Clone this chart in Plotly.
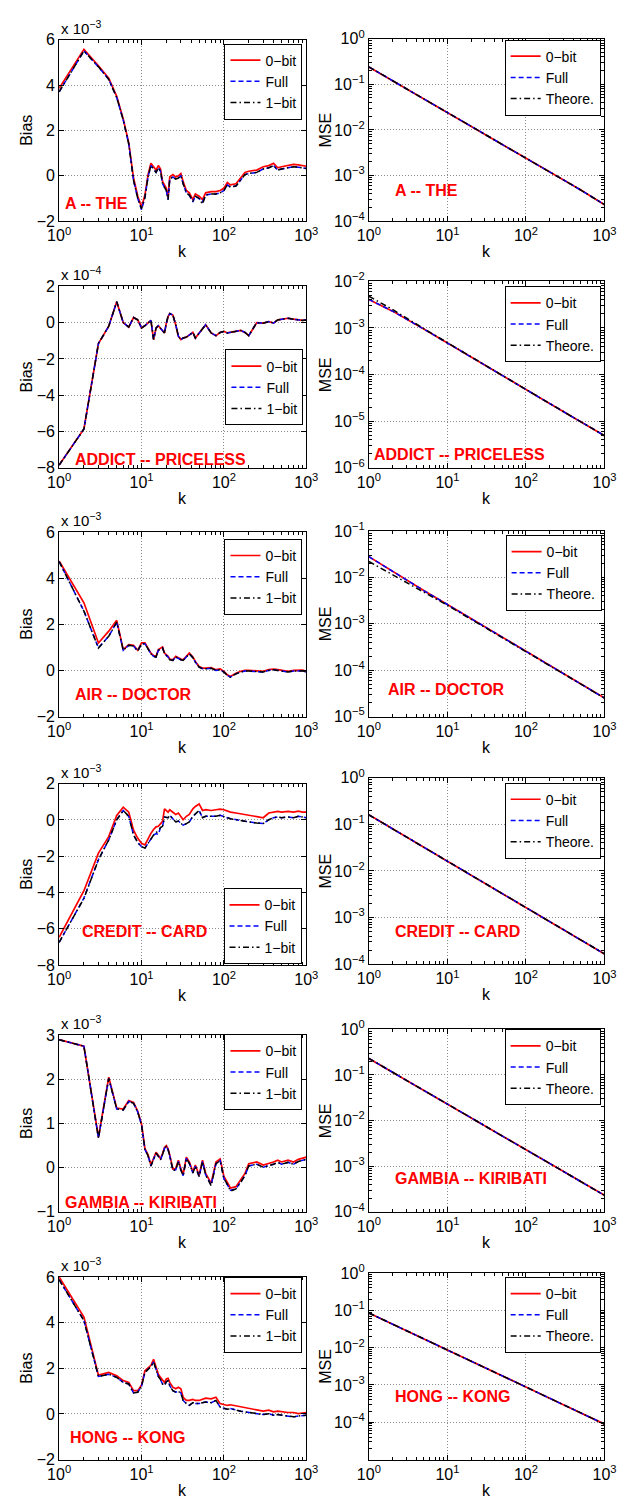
import plotly.graph_objects as go

W, H = 629, 1508

# ---------------- data ----------------
K_BIAS = [1, 2, 3, 4, 5, 6, 7, 8, 9, 10, 11, 12, 13, 14, 15, 16, 17, 18, 19, 20, 21, 22,
          24, 26, 28, 30, 32, 35, 38, 42, 45, 50, 55, 60, 70, 80, 90, 100,
          110, 120, 140, 160, 180, 200, 250, 300, 350, 400, 450, 500,
          600, 700, 800, 900, 1000]
K_MSE = [1, 2, 5, 10, 20, 50, 100, 200, 500, 1000]

PAIR_NAMES = ["A -- THE", "ADDICT -- PRICELESS", "AIR -- DOCTOR",
              "CREDIT -- CARD", "GAMBIA -- KIRIBATI", "HONG -- KONG"]
BIAS_LEGEND = ["0\u2212bit", "Full", "1\u2212bit"]
MSE_LEGEND = ["0\u2212bit", "Full", "Theore."]

# Bias values (in units of 10^exponent)
A_THE_0BIT = [3.85, 5.57, 4.85, 4.3, 3.5, 2.5, 1.45, -0.1, -0.9, -1.38, -0.85, 0.05, 0.55, 0.4, 0.25, 0.45, 0.3, -0.25, -0.4, -0.55, -0.95, -0.05,
              0.05, -0.05, 0.0, 0.1, -0.25, -0.65, -0.75, -1.05, -0.8, -0.9, -1.05, -0.75, -0.7, -0.7, -0.65, -0.55,
              -0.3, -0.4, -0.35, -0.1, 0.15, 0.2, 0.25, 0.4, 0.45, 0.55, 0.35, 0.4,
              0.45, 0.5, 0.48, 0.45, 0.42]
A_THE_FULL = [3.7, 5.5, 4.8, 4.25, 3.45, 2.45, 1.4, -0.2, -1.0, -1.5, -0.95, -0.05, 0.45, 0.3, 0.15, 0.35, 0.2, -0.35, -0.5, -0.65, -1.05, -0.15,
              -0.05, -0.15, -0.1, 0.0, -0.35, -0.75, -0.85, -1.15, -0.9, -1.0, -1.15, -0.85, -0.8, -0.8, -0.75, -0.65,
              -0.4, -0.5, -0.45, -0.2, 0.05, 0.1, 0.15, 0.3, 0.35, 0.45, 0.25, 0.3,
              0.35, 0.4, 0.38, 0.35, 0.32]
A_THE_1BIT = [3.7, 5.5, 4.8, 4.25, 3.45, 2.45, 1.4, -0.2, -1.0, -1.45, -0.95, -0.05, 0.45, 0.3, 0.15, 0.35, 0.2, -0.35, -0.5, -0.65, -1.05, -0.15,
              -0.05, -0.15, -0.1, 0.0, -0.35, -0.75, -0.85, -1.1, -0.9, -1.0, -1.25, -0.85, -0.8, -0.8, -0.75, -0.65,
              -0.4, -0.5, -0.45, -0.2, 0.05, 0.1, 0.15, 0.3, 0.35, 0.45, 0.25, 0.3,
              0.35, 0.4, 0.38, 0.35, 0.32]

ADDICT_0BIT = [-7.85, -5.86, -1.15, -0.2, 1.15, 0.0, -0.25, 0.28, 0.15, -0.3, -0.17, -0.03, 0.12, -0.93, -0.3, -0.17, -0.3, -0.48, -0.57, -0.03, 0.33, 0.5,
               0.42, -0.12, -0.75, -0.93, -0.85, -0.8, -0.66, -0.54, -0.85, -0.57, -0.3, -0.12, -0.57, -0.72, -0.54, -0.48,
               -0.57, -0.54, -0.48, -0.43, -0.54, -0.72, 0.0, -0.03, 0.06, -0.03, 0.15, 0.19,
               0.24, 0.19, 0.15, 0.12, 0.15]
ADDICT_FULL = [-7.85, -5.86, -1.15, -0.2, 1.15, 0.0, -0.25, 0.28, 0.15, -0.3, -0.17, -0.03, 0.12, -0.93, -0.3, -0.17, -0.3, -0.48, -0.57, -0.03, 0.33, 0.5,
               0.42, -0.12, -0.75, -0.93, -0.85, -0.8, -0.66, -0.54, -0.85, -0.57, -0.3, -0.12, -0.57, -0.72, -0.54, -0.48,
               -0.57, -0.54, -0.48, -0.43, -0.54, -0.72, 0.0, -0.03, 0.06, -0.03, 0.15, 0.19,
               0.24, 0.19, 0.15, 0.12, 0.15]
ADDICT_1BIT = [-7.85, -5.86, -1.15, -0.2, 1.15, 0.0, -0.25, 0.28, 0.15, -0.3, -0.17, -0.03, 0.12, -0.93, -0.3, -0.17, -0.3, -0.48, -0.57, -0.03, 0.33, 0.5,
               0.42, -0.12, -0.75, -0.93, -0.85, -0.8, -0.66, -0.54, -0.85, -0.57, -0.3, -0.12, -0.57, -0.72, -0.54, -0.48,
               -0.57, -0.54, -0.48, -0.43, -0.54, -0.72, 0.0, -0.03, 0.06, -0.03, 0.15, 0.19,
               0.24, 0.19, 0.15, 0.12, 0.15]

AIR_0BIT = [4.74, 2.93, 1.19, 1.7, 2.17, 0.9, 1.12, 1.09, 0.87, 1.19, 1.19, 0.97, 0.75, 0.64, 0.61, 0.9, 0.97, 1.01, 0.75, 0.68, 0.61, 0.49,
            0.46, 0.61, 0.54, 0.49, 0.46, 0.61, 0.75, 0.58, 0.39, 0.17, 0.1, 0.1, 0.12, 0.03, 0.06, -0.04,
            -0.19, -0.26, -0.12, -0.04, 0.0, 0.0, -0.04, -0.04, 0.03, 0.06, 0.03, 0.0,
            -0.04, 0.0, 0.0, 0.01, -0.04]
AIR_FULL = [4.72, 2.57, 0.97, 1.48, 2.09, 0.87, 1.09, 1.06, 0.84, 1.16, 1.16, 0.94, 0.72, 0.61, 0.58, 0.87, 0.94, 0.98, 0.72, 0.65, 0.58, 0.46,
            0.43, 0.58, 0.51, 0.46, 0.43, 0.58, 0.72, 0.55, 0.36, 0.14, 0.07, 0.07, 0.09, 0.0, 0.03, -0.07,
            -0.22, -0.29, -0.15, -0.07, -0.03, -0.03, -0.07, -0.07, 0.0, 0.03, 0.0, -0.03,
            -0.07, -0.03, -0.03, -0.02, -0.07]
AIR_1BIT = [4.72, 2.57, 0.97, 1.48, 2.09, 0.87, 1.09, 1.06, 0.84, 1.16, 1.16, 0.94, 0.72, 0.61, 0.58, 0.87, 0.94, 0.98, 0.72, 0.65, 0.58, 0.46,
            0.43, 0.58, 0.51, 0.46, 0.43, 0.58, 0.72, 0.55, 0.36, 0.14, 0.07, 0.07, 0.09, 0.0, 0.03, -0.07,
            -0.22, -0.29, -0.15, -0.07, -0.03, -0.03, -0.07, -0.07, 0.0, 0.03, 0.0, -0.03,
            -0.07, -0.03, -0.03, -0.02, -0.07]

CREDIT_0BIT = [-6.47, -3.9, -1.83, -0.92, 0.25, 0.7, 0.43, -0.56, -1.01, -1.29, -1.38, -1.01, -0.74, -0.53, -0.38, -0.35, -0.2, -0.08, 0.61, 0.52, 0.43, 0.56,
               0.43, 0.3, 0.38, 0.2, 0.01, 0.2, 0.3, 0.61, 0.74, 0.88, 0.52, 0.57, 0.52, 0.56, 0.59, 0.56,
               0.48, 0.43, 0.38, 0.34, 0.3, 0.25, 0.2, 0.12, 0.38, 0.43, 0.47, 0.43,
               0.47, 0.43, 0.48, 0.43, 0.43]
CREDIT_FULL = [-6.75, -4.3, -2.19, -1.1, 0.01, 0.52, 0.2, -0.83, -1.25, -1.47, -1.55, -1.29, -1.01, -0.83, -0.75, -0.8, -0.42, -0.35, 0.16, 0.16, 0.12, 0.25,
               0.07, -0.11, -0.06, -0.17, -0.29, -0.2, -0.11, 0.2, 0.34, 0.52, 0.12, 0.2, 0.2, 0.2, 0.25, 0.2,
               0.12, 0.07, 0.01, -0.02, -0.06, -0.11, -0.17, -0.2, 0.01, 0.12, 0.16, 0.12,
               0.16, 0.12, 0.2, 0.16, 0.12]
CREDIT_1BIT = [-6.74, -4.32, -2.19, -1.1, 0.01, 0.52, 0.2, -0.83, -1.25, -1.47, -1.55, -1.29, -1.01, -0.83, -0.7, -0.6, -0.42, -0.35, 0.16, 0.16, 0.12, 0.25,
               0.07, -0.11, -0.06, -0.17, -0.29, -0.2, -0.11, 0.2, 0.34, 0.52, 0.12, 0.2, 0.2, 0.2, 0.25, 0.2,
               0.12, 0.07, 0.01, -0.02, -0.06, -0.11, -0.17, -0.2, 0.01, 0.12, 0.16, 0.12,
               0.16, 0.12, 0.2, 0.16, 0.12]

GAMBIA_0BIT = [2.9, 2.75, 0.69, 2.05, 1.35, 1.33, 1.52, 1.48, 1.28, 0.99, 0.43, 0.29, 0.06, 0.2, 0.35, 0.28, 0.2, 0.32, 0.46, 0.5, 0.43, 0.29,
               -0.03, -0.02, 0.17, -0.02, -0.15, 0.24, 0.13, -0.09, 0.06, -0.17, 0.17, -0.13, -0.35, 0.13, 0.2, -0.2,
               -0.32, -0.46, -0.43, -0.28, -0.13, 0.09, 0.13, 0.06, 0.09, 0.13, 0.17, 0.13,
               0.17, 0.13, 0.19, 0.22, 0.24]
GAMBIA_FULL = [2.9, 2.75, 0.67, 2.02, 1.33, 1.31, 1.5, 1.46, 1.26, 0.97, 0.41, 0.27, 0.04, 0.18, 0.33, 0.26, 0.18, 0.3, 0.44, 0.48, 0.41, 0.27,
               -0.06, -0.05, 0.14, -0.05, -0.18, 0.21, 0.1, -0.12, 0.03, -0.2, 0.14, -0.16, -0.39, 0.09, 0.16, -0.25,
               -0.37, -0.51, -0.48, -0.33, -0.18, 0.04, 0.08, 0.01, 0.04, 0.08, 0.12, 0.08,
               0.12, 0.08, 0.14, 0.17, 0.19]
GAMBIA_1BIT = [2.9, 2.75, 0.67, 2.02, 1.33, 1.31, 1.5, 1.46, 1.26, 0.97, 0.41, 0.27, 0.04, 0.18, 0.33, 0.26, 0.18, 0.3, 0.44, 0.48, 0.41, 0.27,
               -0.06, -0.05, 0.14, -0.05, -0.18, 0.21, 0.1, -0.12, 0.03, -0.2, 0.14, -0.16, -0.41, 0.09, 0.16, -0.25,
               -0.37, -0.53, -0.48, -0.33, -0.18, 0.04, 0.08, 0.01, 0.04, 0.08, 0.12, 0.08,
               0.12, 0.08, 0.14, 0.17, 0.19]

HONG_0BIT = [6.0, 4.24, 1.7, 1.82, 1.67, 1.46, 1.38, 1.02, 1.02, 1.27, 1.89, 2.03, 2.13, 2.39, 2.03, 1.74, 1.6, 1.46, 1.38, 1.53, 1.56, 1.38,
             1.17, 1.1, 1.17, 1.1, 0.73, 0.59, 0.59, 0.63, 0.59, 0.59, 0.66, 0.69, 0.66, 0.73, 0.45, 0.4,
             0.37, 0.4, 0.35, 0.3, 0.26, 0.23, 0.16, 0.12, 0.16, 0.09, 0.12, 0.09,
             0.06, 0.06, 0.01, 0.04, 0.06]
HONG_FULL = [5.88, 4.09, 1.64, 1.74, 1.6, 1.38, 1.31, 0.92, 0.95, 1.21, 1.82, 1.96, 2.07, 2.28, 1.96, 1.64, 1.5, 1.31, 1.24, 1.41, 1.46, 1.24,
             1.02, 0.95, 0.98, 0.92, 0.59, 0.45, 0.37, 0.49, 0.45, 0.45, 0.49, 0.52, 0.49, 0.59, 0.3, 0.23,
             0.2, 0.23, 0.16, 0.12, 0.09, 0.06, 0.01, -0.03, 0.01, -0.06, -0.03, -0.06,
             -0.09, -0.13, -0.09, -0.06, -0.06]
HONG_1BIT = [5.88, 4.09, 1.64, 1.74, 1.6, 1.38, 1.31, 0.92, 0.95, 1.21, 1.82, 1.96, 2.07, 2.28, 1.96, 1.64, 1.5, 1.31, 1.24, 1.41, 1.46, 1.24,
             1.02, 0.95, 0.98, 0.92, 0.59, 0.45, 0.37, 0.49, 0.45, 0.45, 0.49, 0.52, 0.49, 0.59, 0.3, 0.23,
             0.2, 0.23, 0.16, 0.12, 0.09, 0.06, 0.01, -0.03, 0.01, -0.06, -0.03, -0.06,
             -0.09, -0.13, -0.09, -0.06, -0.06]

# MSE values
A_THE_MSE_0BIT = [0.24, 0.12, 0.048, 0.024, 0.012, 0.0048, 0.0024, 0.0012, 0.00048, 0.00023]
A_THE_MSE_FULL = [0.24, 0.12, 0.048, 0.024, 0.012, 0.0048, 0.0024, 0.0012, 0.00048, 0.00023]
A_THE_MSE_THEO = [0.24, 0.12, 0.048, 0.024, 0.012, 0.0048, 0.0024, 0.0012, 0.00048, 0.00023]
ADDICT_MSE_0BIT = [0.0041, 0.0023, 0.00095, 0.00048, 0.00024, 9.6e-5, 4.8e-5, 2.4e-5, 9.7e-6, 4.9e-6]
ADDICT_MSE_FULL = [0.0041, 0.0023, 0.00095, 0.00048, 0.00024, 9.6e-5, 4.8e-5, 2.4e-5, 9.7e-6, 4.9e-6]
ADDICT_MSE_THEO = [0.0048, 0.0025, 0.00097, 0.00048, 0.00024, 9.6e-5, 4.8e-5, 2.4e-5, 9.7e-6, 4.9e-6]
AIR_MSE_0BIT = [0.028, 0.0135, 0.0052, 0.0026, 0.0013, 0.00051, 0.00025, 0.000126, 5.0e-5, 2.5e-5]
AIR_MSE_FULL = [0.028, 0.0135, 0.0052, 0.0026, 0.0013, 0.00051, 0.00025, 0.000126, 5.0e-5, 2.5e-5]
AIR_MSE_THEO = [0.022, 0.0115, 0.0047, 0.0025, 0.00125, 0.0005, 0.00025, 0.000125, 5.0e-5, 2.5e-5]
CREDIT_MSE_0BIT = [0.16, 0.08, 0.033, 0.0165, 0.0083, 0.0033, 0.00166, 0.00083, 0.00033, 0.000166]
CREDIT_MSE_FULL = [0.16, 0.08, 0.033, 0.0165, 0.0083, 0.0033, 0.00166, 0.00083, 0.00033, 0.000166]
CREDIT_MSE_THEO = [0.16, 0.08, 0.033, 0.0165, 0.0083, 0.0033, 0.00166, 0.00083, 0.00033, 0.000166]
GAMBIA_MSE_0BIT = [0.23, 0.115, 0.046, 0.023, 0.0115, 0.0046, 0.0023, 0.00115, 0.00046, 0.00023]
GAMBIA_MSE_FULL = [0.23, 0.115, 0.046, 0.023, 0.0115, 0.0046, 0.0023, 0.00115, 0.00046, 0.00023]
GAMBIA_MSE_THEO = [0.23, 0.115, 0.046, 0.023, 0.0115, 0.0046, 0.0023, 0.00115, 0.00046, 0.00023]
HONG_MSE_0BIT = [0.085, 0.043, 0.017, 0.0087, 0.0044, 0.00175, 0.00088, 0.00044, 0.000176, 8.9e-5]
HONG_MSE_FULL = [0.085, 0.043, 0.017, 0.0087, 0.0044, 0.00175, 0.00088, 0.00044, 0.000176, 8.9e-5]
HONG_MSE_THEO = [0.085, 0.043, 0.017, 0.0087, 0.0044, 0.00175, 0.00088, 0.00044, 0.000176, 8.9e-5]

BIAS_SERIES = [(A_THE_0BIT, A_THE_FULL, A_THE_1BIT), (ADDICT_0BIT, ADDICT_FULL, ADDICT_1BIT),
               (AIR_0BIT, AIR_FULL, AIR_1BIT), (CREDIT_0BIT, CREDIT_FULL, CREDIT_1BIT),
               (GAMBIA_0BIT, GAMBIA_FULL, GAMBIA_1BIT), (HONG_0BIT, HONG_FULL, HONG_1BIT)]
MSE_SERIES = [(A_THE_MSE_0BIT, A_THE_MSE_FULL, A_THE_MSE_THEO), (ADDICT_MSE_0BIT, ADDICT_MSE_FULL, ADDICT_MSE_THEO),
              (AIR_MSE_0BIT, AIR_MSE_FULL, AIR_MSE_THEO), (CREDIT_MSE_0BIT, CREDIT_MSE_FULL, CREDIT_MSE_THEO),
              (GAMBIA_MSE_0BIT, GAMBIA_MSE_FULL, GAMBIA_MSE_THEO), (HONG_MSE_0BIT, HONG_MSE_FULL, HONG_MSE_THEO)]

BIAS_EXPONENTS = ["\u22123", "\u22124", "\u22123", "\u22123", "\u22123", "\u22123"]
BIAS_TICKS = [[-2, 0, 2, 4, 6], [-8, -6, -4, -2, 0, 2], [-2, 0, 2, 4, 6],
              [-8, -6, -4, -2, 0, 2], [-1, 0, 1, 2, 3], [-2, 0, 2, 4, 6]]
MSE_DECADES = [[-4, -3, -2, -1, 0], [-6, -5, -4, -3, -2], [-5, -4, -3, -2, -1],
               [-4, -3, -2, -1, 0], [-4, -3, -2, -1, 0], [-5, -4, -3, -2, -1, 0]]
MSE_UNLABELED = [None, None, None, None, None, -5]
X_TICK_VALS = [1, 10, 100, 1000]
X_TICK_TEXT = ["10<sup>0</sup>", "10<sup>1</sup>", "10<sup>2</sup>", "10<sup>3</sup>"]

# ---------------- layout geometry (pixels) ----------------
LEFT_X = (49, 306)
RIGHT_X = (371, 616)
LEFT_Y = [(29, 213), (279, 463), (528, 715), (783, 967), (1038, 1217), (1283, 1468)]
RIGHT_Y = [(28, 213), (274, 463), (527, 715), (777, 966), (1032, 1217), (1279, 1468)]
LEFT_LEG = [(302, 33), (303, 343), (302, 535), (301, 889), (302, 1037), (302, 1283)]
RIGHT_LEG = [(612, 29), (612, 279), (613, 531), (612, 782), (612, 1032), (612, 1283)]
LEFT_LABEL = [(53, 195), (63, 455), (63, 693), (71, 933), (53, 1208), (58, 1446)]
RIGHT_LABEL = [(396, 182), (374, 449), (389, 688), (396, 933), (396, 1183), (396, 1404)]

FONT = "Liberation Sans, Arial, Helvetica, sans-serif"


def fx(x):
    return x / W


def fy(y):
    return 1 - y / H


MINOR_K = [m * d for d in (1, 10, 100) for m in range(2, 10)]

fig = go.Figure()
layout = dict(width=W, height=H, margin=dict(l=0, r=0, t=0, b=0),
              paper_bgcolor="white", plot_bgcolor="white",
              font=dict(family=FONT, color="black", size=15),
              showlegend=True, annotations=[])

line_styles = [dict(color="#ff0000", width=1.7),
               dict(color="#0000ff", width=1.5, dash="5px,3px"),
               dict(color="#000000", width=1.5, dash="6px,3px,1.5px,3px")]

common_axis = dict(showline=True, linecolor="black", linewidth=1, mirror="ticks",
                   ticks="inside", ticklen=5, tickcolor="black", tickwidth=1,
                   showgrid=True, gridcolor="#8c8c8c", gridwidth=1, griddash="1px,2px",
                   zeroline=False, tickfont=dict(size=16, family=FONT, color="black"))

for r in range(6):
    for c in range(2):
        idx = 2 * r + c + 1
        sfx = "" if idx == 1 else str(idx)
        xref, yref = "x" + sfx, "y" + sfx
        legname = "legend" + sfx
        xd = LEFT_X if c == 0 else RIGHT_X
        yd = LEFT_Y[r] if c == 0 else RIGHT_Y[r]

        if c == 0:
            series = BIAS_SERIES[r]
            names = BIAS_LEGEND
            xs = K_BIAS
        else:
            series = MSE_SERIES[r]
            names = MSE_LEGEND
            xs = K_MSE
        for s in range(3):
            fig.add_trace(go.Scatter(x=xs, y=series[s], mode="lines", name=names[s],
                                     line=line_styles[s], xaxis=xref, yaxis=yref,
                                     legend=legname, showlegend=True, hoverinfo="skip"))

        xa = dict(common_axis)
        xa.update(type="log", range=[0, 3], domain=[fx(xd[0]), fx(xd[1])], anchor=yref,
                  tickvals=X_TICK_VALS, ticktext=X_TICK_TEXT,
                  minor=dict(ticks="inside", ticklen=3, tickcolor="black", tickvals=MINOR_K, showgrid=False))
        ya = dict(common_axis)
        if c == 0:
            tv = BIAS_TICKS[r]
            ya.update(type="linear", range=[tv[0], tv[-1]], tickvals=tv,
                      ticktext=[("\u2212" + str(-v)) if v < 0 else str(v) for v in tv])
        else:
            decs = MSE_DECADES[r]
            tv = [10.0 ** d for d in decs]
            tt = []
            for d in decs:
                if MSE_UNLABELED[r] is not None and d == MSE_UNLABELED[r]:
                    tt.append("")
                else:
                    tt.append("10<sup>" + ("\u2212" + str(-d) if d < 0 else str(d)) + "</sup>")
            minor_y = [m * 10.0 ** d for d in decs[:-1] for m in range(2, 10)]
            ya.update(type="log", range=[decs[0], decs[-1]], tickvals=tv, ticktext=tt,
                      minor=dict(ticks="inside", ticklen=3, tickcolor="black", tickvals=minor_y, showgrid=False))
        ya.update(domain=[fy(yd[1]), fy(yd[0])], anchor=xref)
        layout["xaxis" + sfx] = xa
        layout["yaxis" + sfx] = ya

        lx, ly = (LEFT_LEG if c == 0 else RIGHT_LEG)[r]
        layout[legname] = dict(x=fx(lx), y=fy(ly), xanchor="right", yanchor="top",
                               bgcolor="white", bordercolor="black", borderwidth=1,
                               font=dict(size=14, family=FONT, color="black"),
                               itemwidth=30, tracegroupgap=0, traceorder="normal")

        # pair label
        ax_, ay_ = (LEFT_LABEL if c == 0 else RIGHT_LABEL)[r]
        layout["annotations"].append(dict(text="<b>" + PAIR_NAMES[r] + "</b>", x=fx(ax_), y=fy(ay_),
                                          xref="paper", yref="paper", xanchor="left", yanchor="middle",
                                          showarrow=False, font=dict(size=16, color="#ff0000", family=FONT)))
        # axis titles
        cx = (xd[0] + xd[1]) / 2
        layout["annotations"].append(dict(text="k", x=fx(cx), y=fy(yd[1] + 31), xref="paper", yref="paper",
                                          xanchor="center", yanchor="middle", showarrow=False,
                                          font=dict(size=16, family=FONT, color="black")))
        ttl_x = 15 if c == 0 else 326
        layout["annotations"].append(dict(text="Bias" if c == 0 else "MSE", x=fx(ttl_x),
                                          y=fy((yd[0] + yd[1]) / 2), xref="paper", yref="paper",
                                          xanchor="center", yanchor="middle", textangle=-90, showarrow=False,
                                          font=dict(size=16, family=FONT, color="black")))
        if c == 0:
            layout["annotations"].append(dict(text="x 10<sup>" + BIAS_EXPONENTS[r] + "</sup>",
                                              x=fx(xd[0]), y=fy(yd[0] - 1), xref="paper", yref="paper",
                                              xanchor="left", yanchor="bottom", showarrow=False,
                                              font=dict(size=15, family=FONT, color="black")))

fig.update_layout(**layout)
fig.write_html("out.html", config={"displayModeBar": False},
               post_script="document.body.style.margin='0px';")
